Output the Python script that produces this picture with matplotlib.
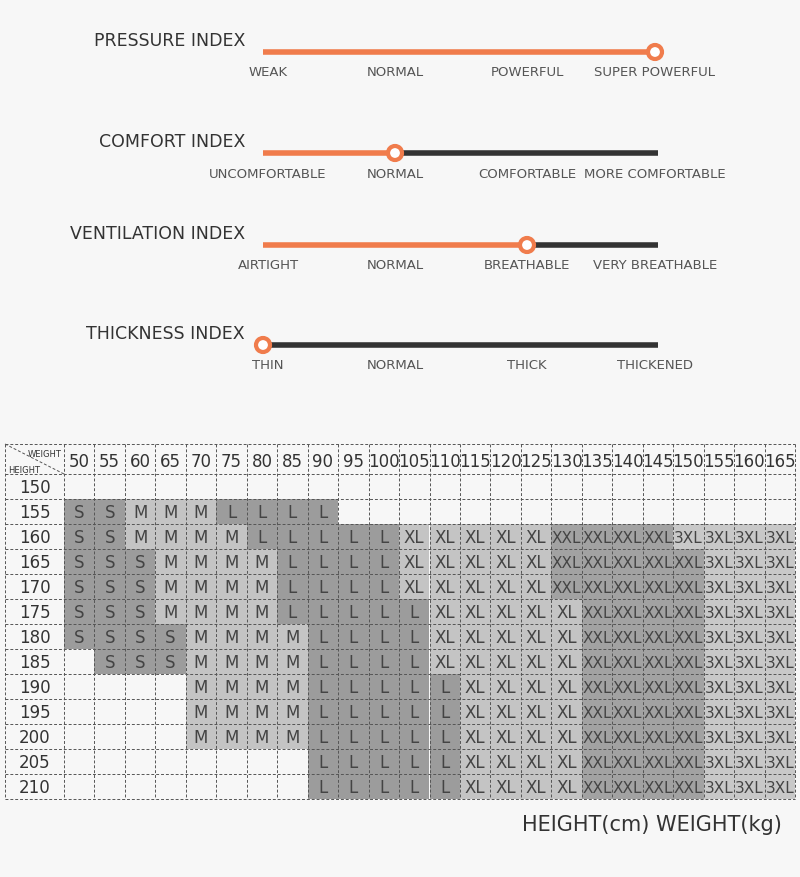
import matplotlib.pyplot as plt
from matplotlib.patches import Rectangle, Circle

# ---- 指数数据 ----
index_names = ["PRESSURE INDEX", "COMFORT INDEX", "VENTILATION INDEX", "THICKNESS INDEX"]
index_labels = [
    ["WEAK", "NORMAL", "POWERFUL", "SUPER POWERFUL"],
    ["UNCOMFORTABLE", "NORMAL", "COMFORTABLE", "MORE COMFORTABLE"],
    ["AIRTIGHT", "NORMAL", "BREATHABLE", "VERY BREATHABLE"],
    ["THIN", "NORMAL", "THICK", "THICKENED"],
]
index_levels = [3, 1, 2, 0]

# ---- 尺码表数据 ----
weights = [50, 55, 60, 65, 70, 75, 80, 85, 90, 95, 100, 105, 110, 115, 120, 125,
           130, 135, 140, 145, 150, 155, 160, 165]
heights = [150, 155, 160, 165, 170, 175, 180, 185, 190, 195, 200, 205, 210]
sizes = [
    "",
    "S S M M M L L L L",
    "S S M M M M L L L L L XL XL XL XL XL XXL XXL XXL XXL 3XL 3XL 3XL 3XL",
    "S S S M M M M L L L L XL XL XL XL XL XXL XXL XXL XXL XXL 3XL 3XL 3XL",
    "S S S M M M M L L L L XL XL XL XL XL XXL XXL XXL XXL XXL 3XL 3XL 3XL",
    "S S S M M M M L L L L L XL XL XL XL XL XXL XXL XXL XXL 3XL 3XL 3XL",
    "S S S S M M M M L L L L XL XL XL XL XL XXL XXL XXL XXL 3XL 3XL 3XL",
    "- S S S M M M M L L L L XL XL XL XL XL XXL XXL XXL XXL 3XL 3XL 3XL",
    "- - - - M M M M L L L L L XL XL XL XL XXL XXL XXL XXL 3XL 3XL 3XL",
    "- - - - M M M M L L L L L XL XL XL XL XXL XXL XXL XXL 3XL 3XL 3XL",
    "- - - - M M M M L L L L L XL XL XL XL XXL XXL XXL XXL 3XL 3XL 3XL",
    "- - - - - - - - L L L L L XL XL XL XL XXL XXL XXL XXL 3XL 3XL 3XL",
    "- - - - - - - - L L L L L XL XL XL XL XXL XXL XXL XXL 3XL 3XL 3XL",
]
size_colors = {"S": "#9c9c9c", "M": "#c4c4c4", "L": "#9c9c9c",
               "XL": "#c4c4c4", "XXL": "#a2a2a2", "3XL": "#c8c8c8"}

orange = "#f07c4c"
dark = "#333333"
textc = "#555555"

fig = plt.figure(figsize=(8, 8.78), dpi=100, facecolor="#f7f7f7")
ax = fig.add_axes([0, 0, 1, 1])
ax.set_xlim(0, 800)
ax.set_ylim(878, 0)
ax.axis("off")

# ---- 指数滑条 ----
line_y = [53, 154, 246, 346]
tick_x = [268, 395, 527, 655]
for name, labs, lev, y in zip(index_names, index_labels, index_levels, line_y):
    ax.text(245, y - 12, name, ha="right", va="center", fontsize=12.5, color="#333333")
    mx = tick_x[lev] if lev > 0 else 263
    ax.plot([263, mx], [y, y], color=orange, lw=4, solid_capstyle="butt", zorder=2)
    ax.plot([mx, 658], [y, y], color=dark, lw=4, solid_capstyle="butt", zorder=1)
    ax.add_patch(Circle((mx, y), 7, facecolor="white", edgecolor=orange, lw=3, zorder=3))
    for lx, lab in zip(tick_x, labs):
        ax.text(lx, y + 20, lab, ha="center", va="center", fontsize=9.5, color=textc)

# ---- 尺码表 ----
x0, x1, xr = 5, 64, 795
y0, y1, yb = 445, 475, 800
cw = (xr - x1) / len(weights)
rh = (yb - y1) / len(heights)

for i, row in enumerate(sizes):
    cells = row.split() if row else []
    for j, s in enumerate(cells):
        if s == "-":
            continue
        cx = x1 + j * cw
        cy = y1 + i * rh
        ax.add_patch(Rectangle((cx, cy), cw, rh, facecolor=size_colors[s], lw=0, zorder=1))
        ax.text(cx + cw / 2, cy + rh / 2 + 1, s, ha="center", va="center",
                fontsize=12 if len(s) < 3 else 11, color="#444444", zorder=3)

for i, h in enumerate(heights):
    ax.text((x0 + x1) / 2, y1 + (i + 0.5) * rh + 1, str(h), ha="center", va="center",
            fontsize=12, color="#333333")
for j, w in enumerate(weights):
    ax.text(x1 + (j + 0.5) * cw, (y0 + y1) / 2 + 2, str(w), ha="center", va="center",
            fontsize=12, color="#333333")

# 网格虚线
grid_kw = dict(color="#555555", lw=0.7, ls=(0, (3, 2)), zorder=4)
for k in range(len(weights) + 1):
    ax.plot([x1 + k * cw] * 2, [y0, yb], **grid_kw)
ax.plot([x0, x0], [y0, yb], **grid_kw)
ax.plot([x0, xr], [y0, y0], **grid_kw)
for k in range(len(heights) + 1):
    ax.plot([x0, xr], [y1 + k * rh] * 2, **grid_kw)
ax.plot([x0, x1], [y0, y1], **grid_kw)
ax.text(62, 455, "WEIGHT", ha="right", va="center", fontsize=6, color="#333333")
ax.text(8, 471, "HEIGHT", ha="left", va="center", fontsize=6, color="#333333")

ax.text(782, 825, "HEIGHT(cm) WEIGHT(kg)", ha="right", va="center", fontsize=15, color="#333333")

plt.savefig("out.png", dpi=100, facecolor=fig.get_facecolor())
